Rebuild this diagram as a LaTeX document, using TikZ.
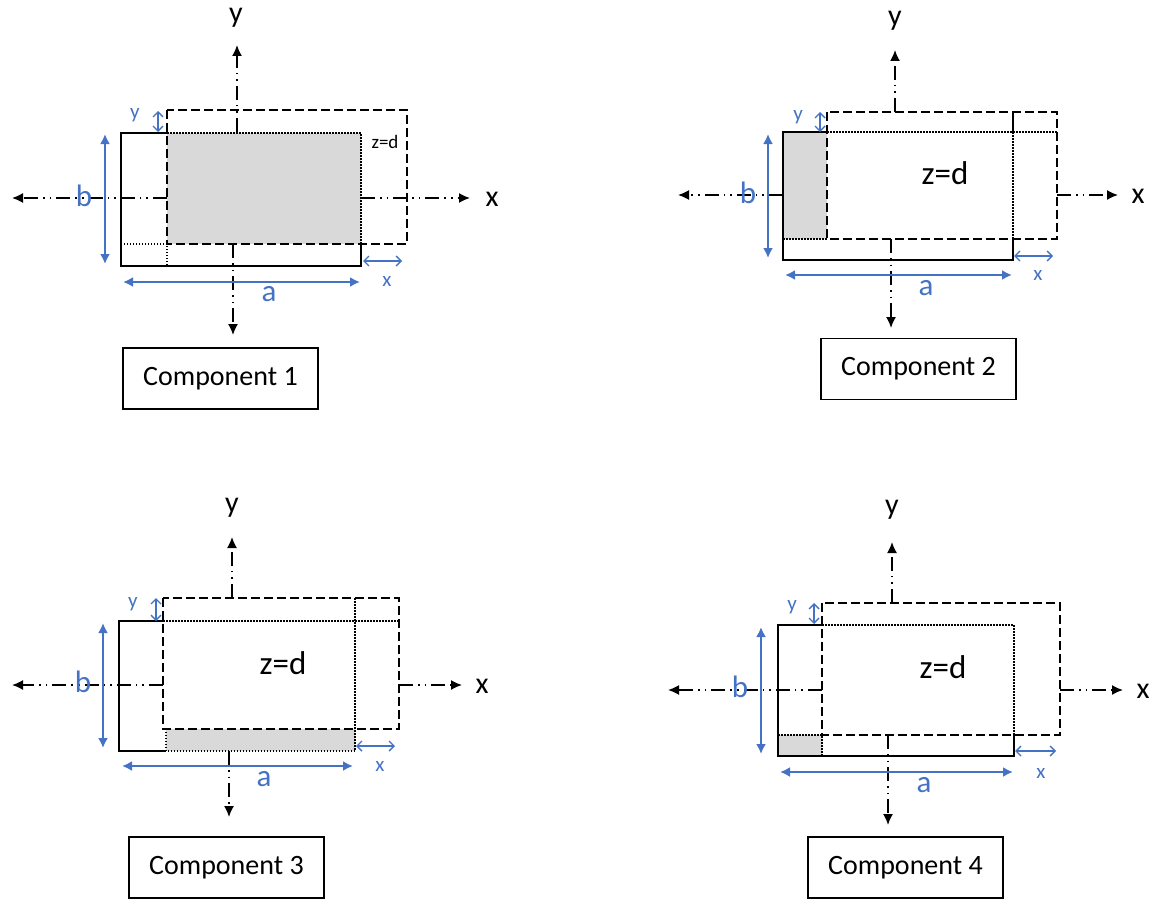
\documentclass[tikz,border=0pt]{standalone}
\usepackage{fontspec}
\setmainfont{Carlito}
\usetikzlibrary{arrows.meta}
\definecolor{dimblue}{HTML}{4472C4}
\definecolor{fillgray}{HTML}{D9D9D9}
\begin{document}
\begin{tikzpicture}[x=1pt,y=-1pt,
  solidline/.style={line width=2.6pt},
  dashline/.style={line width=2.6pt, dash pattern=on 9pt off 4pt},
  dotline/.style={line width=1.5pt, dash pattern=on 1.5pt off 1.5pt},
  axisline/.style={line width=1.6pt, dash pattern=on 14pt off 5pt on 1.6pt off 5pt on 1.6pt off 5pt, -{Latex[length=11pt,width=10pt]}},
  bigdim/.style={dimblue, line width=2pt, {Latex[length=10pt,width=10pt]}-{Latex[length=10pt,width=10pt]}},
  smalldim/.style={dimblue, line width=1.4pt, {Straight Barb[length=5pt,width=10pt]}-{Straight Barb[length=5pt,width=10pt]}},
  axlabel/.style={font=\fontsize{30}{32}\selectfont, inner sep=0pt},
  dimlabel/.style={text=dimblue, font=\fontsize{31}{33}\selectfont, inner sep=0pt},
  smalllabel/.style={text=dimblue, font=\fontsize{21}{23}\selectfont, inner sep=0pt},
  zlabel/.style={font=\fontsize{33}{35}\selectfont, inner sep=0pt},
  compbox/.style={draw, line width=1.5pt, font=\fontsize{28}{30}\selectfont, minimum width=195pt, minimum height=61pt, inner sep=0pt}
]
\useasboundingbox (0,0) rectangle (1153,899);

% ================= Component 1 =================
\coordinate (c1l) at (167,198); \coordinate (c1lt) at (12,198);
\coordinate (c1r) at (361,198); \coordinate (c1rt) at (470,198);
\coordinate (c1u) at (237,132); \coordinate (c1ut) at (237,45);
\coordinate (c1d) at (233,244); \coordinate (c1dt) at (233,335);
\draw[axisline] (c1l) -- (c1lt);
\draw[axisline] (c1r) -- (c1rt);
\draw[axisline] (c1u) -- (c1ut);
\draw[axisline] (c1d) -- (c1dt);
\fill[fillgray] (167,133) rectangle (361,244);
\draw[dotline] (167,133) -- (361,133) -- (361,244);
\draw[dotline] (121,244) rectangle (167,266);
\draw[solidline] (167,133) -- (121,133) -- (121,266) -- (361,266) -- (361,244);
\draw[dashline] (167,110) rectangle (407,244);
\node[axlabel] (c1ylab) at (236,18) {y};
\node[axlabel] (c1xlab) at (492,199) {x};
\node[font=\fontsize{19}{21}\selectfont, inner sep=0pt] (c1z) at (385,142) {z=d};
\coordinate (c1b1) at (105,134); \coordinate (c1b2) at (105,264);
\draw[bigdim] (c1b1) -- (c1b2);
\node[dimlabel] (c1blab) at (84,196) {b};
\coordinate (c1a1) at (123,282); \coordinate (c1a2) at (360,282);
\draw[bigdim] (c1a1) -- (c1a2);
\node[dimlabel] (c1alab) at (269,294) {a};
\coordinate (c1y1) at (158,111); \coordinate (c1y2) at (158,132);
\draw[smalldim] (c1y1) -- (c1y2);
\node[smalllabel] (c1ylab2) at (135,115) {y};
\coordinate (c1x1) at (363,261); \coordinate (c1x2) at (402,261);
\draw[smalldim] (c1x1) -- (c1x2);
\node[smalllabel] (c1xlab2) at (387,281) {x};
\node[compbox] (comp1) at (220.5,378.5) {Component 1};

% ================= Component 2 =================
\coordinate (c2l) at (783,195); \coordinate (c2lt) at (678,195);
\coordinate (c2r) at (1057,195); \coordinate (c2rt) at (1118,195);
\coordinate (c2u) at (895,112); \coordinate (c2ut) at (895,50);
\coordinate (c2d) at (891,239); \coordinate (c2dt) at (891,328);
\draw[axisline] (c2l) -- (c2lt);
\draw[axisline] (c2r) -- (c2rt);
\draw[axisline] (c2u) -- (c2ut);
\draw[axisline] (c2d) -- (c2dt);
\fill[fillgray] (783,132) rectangle (827,239);
\draw[dotline] (783,239) -- (827,239);
\draw[dotline] (827,132) -- (1057,132);
\draw[dotline] (1013,132) -- (1013,239);
\draw[solidline] (827,132) -- (783,132) -- (783,260) -- (1013,260) -- (1013,239);
\draw[solidline] (1013,112) -- (1013,132);
\draw[dashline] (827,112) rectangle (1057,239);
\node[axlabel] (c2ylab) at (895,21) {y};
\node[axlabel] (c2xlab) at (1138,196) {x};
\node[zlabel] (c2z) at (945,173) {z=d};
\coordinate (c2b1) at (768,134); \coordinate (c2b2) at (768,258);
\draw[bigdim] (c2b1) -- (c2b2);
\node[dimlabel] (c2blab) at (748,193) {b};
\coordinate (c2a1) at (785,275); \coordinate (c2a2) at (1012,275);
\draw[bigdim] (c2a1) -- (c2a2);
\node[dimlabel] (c2alab) at (926,288) {a};
\coordinate (c2y1) at (820,112); \coordinate (c2y2) at (820,132);
\draw[smalldim] (c2y1) -- (c2y2);
\node[smalllabel] (c2ylab2) at (798,117) {y};
\coordinate (c2x1) at (1014,256); \coordinate (c2x2) at (1053,256);
\draw[smalldim] (c2x1) -- (c2x2);
\node[smalllabel] (c2xlab2) at (1038,275) {x};
\node[compbox] (comp2) at (918.5,369) {Component 2};

% ================= Component 3 =================
\coordinate (c3l) at (163,685); \coordinate (c3lt) at (12,685);
\coordinate (c3r) at (399,685); \coordinate (c3rt) at (462,685);
\coordinate (c3u) at (232,598); \coordinate (c3ut) at (232,537);
\coordinate (c3d) at (229,751); \coordinate (c3dt) at (229,817);
\draw[axisline] (c3l) -- (c3lt);
\draw[axisline] (c3r) -- (c3rt);
\draw[axisline] (c3u) -- (c3ut);
\draw[axisline] (c3d) -- (c3dt);
\fill[fillgray] (166,729) rectangle (355,751);
\draw[dotline] (163,621) -- (399,621);
\draw[dotline] (355,598) -- (355,751) -- (166,751) -- (166,729);
\draw[solidline] (163,621) -- (119,621) -- (119,751) -- (166,751);
\draw[dashline] (163,598) rectangle (399,729);
\node[axlabel] (c3ylab) at (232,508) {y};
\node[axlabel] (c3xlab) at (482,686) {x};
\node[zlabel] (c3z) at (283,663) {z=d};
\coordinate (c3b1) at (103,623); \coordinate (c3b2) at (103,748);
\draw[bigdim] (c3b1) -- (c3b2);
\node[dimlabel] (c3blab) at (83,682) {b};
\coordinate (c3a1) at (122,766); \coordinate (c3a2) at (353,766);
\draw[bigdim] (c3a1) -- (c3a2);
\node[dimlabel] (c3alab) at (264,779) {a};
\coordinate (c3y1) at (156,598); \coordinate (c3y2) at (156,621);
\draw[smalldim] (c3y1) -- (c3y2);
\node[smalllabel] (c3ylab2) at (133,604) {y};
\coordinate (c3x1) at (356,746); \coordinate (c3x2) at (395,746);
\draw[smalldim] (c3x1) -- (c3x2);
\node[smalllabel] (c3xlab2) at (380,766) {x};
\node[compbox] (comp3) at (226.5,867.5) {Component 3};

% ================= Component 4 =================
\coordinate (c4l) at (822,690); \coordinate (c4lt) at (668,690);
\coordinate (c4r) at (1060,690); \coordinate (c4rt) at (1123,690);
\coordinate (c4u) at (892,603); \coordinate (c4ut) at (892,542);
\coordinate (c4d) at (888,735); \coordinate (c4dt) at (888,825);
\draw[axisline] (c4l) -- (c4lt);
\draw[axisline] (c4r) -- (c4rt);
\draw[axisline] (c4u) -- (c4ut);
\draw[axisline] (c4d) -- (c4dt);
\fill[fillgray] (778,735) rectangle (822,756);
\draw[dotline] (822,625) -- (1014,625) -- (1014,735);
\draw[dotline] (778,735) -- (822,735) -- (822,756);
\draw[solidline] (822,625) -- (778,625) -- (778,756) -- (1014,756) -- (1014,735);
\draw[dashline] (822,603) rectangle (1060,735);
\node[axlabel] (c4ylab) at (892,510) {y};
\node[axlabel] (c4xlab) at (1143,691) {x};
\node[zlabel] (c4z) at (943,667) {z=d};
\coordinate (c4b1) at (761,627); \coordinate (c4b2) at (761,754);
\draw[bigdim] (c4b1) -- (c4b2);
\node[dimlabel] (c4blab) at (740,687) {b};
\coordinate (c4a1) at (780,772); \coordinate (c4a2) at (1013,772);
\draw[bigdim] (c4a1) -- (c4a2);
\node[dimlabel] (c4alab) at (924,785) {a};
\coordinate (c4y1) at (814,603); \coordinate (c4y2) at (814,624);
\draw[smalldim] (c4y1) -- (c4y2);
\node[smalllabel] (c4ylab2) at (792,607) {y};
\coordinate (c4x1) at (1015,751); \coordinate (c4x2) at (1056,751);
\draw[smalldim] (c4x1) -- (c4x2);
\node[smalllabel] (c4xlab2) at (1041,773) {x};
\node[compbox] (comp4) at (905.5,867.5) {Component 4};
\end{tikzpicture}
\end{document}
